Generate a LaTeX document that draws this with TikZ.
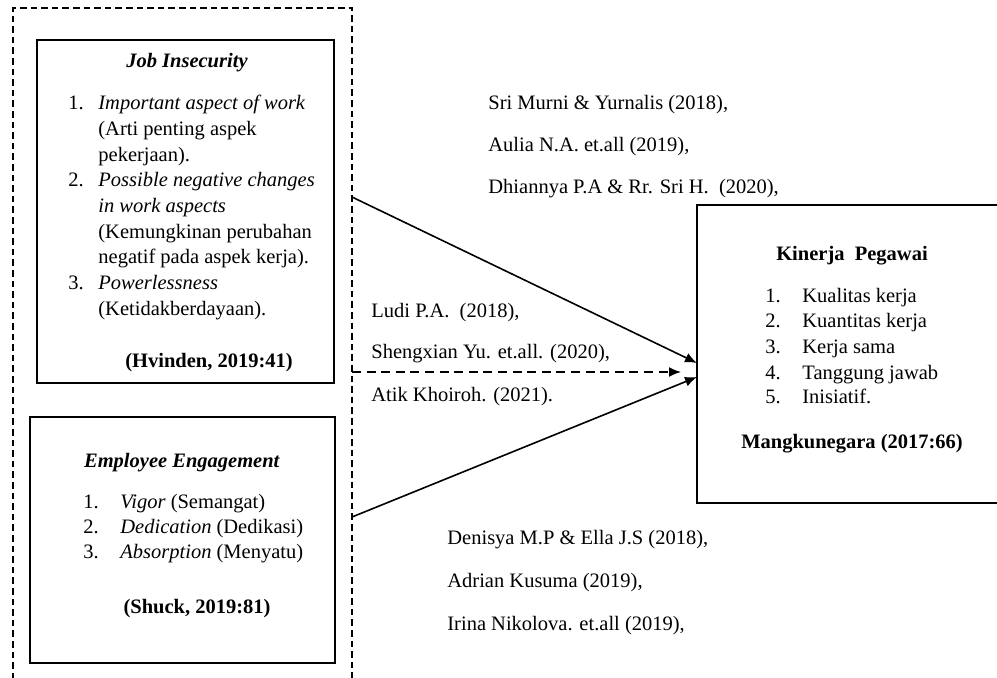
\documentclass[tikz,border=0pt]{standalone}
\usepackage{fontspec}
\setmainfont{Liberation Serif}
\usetikzlibrary{arrows.meta}
\tikzset{
  box/.style={draw,line width=1pt,inner sep=0pt},
  txt/.style={anchor=base west,inner sep=0pt,font=\fontsize{10.25}{12}\selectfont},
  ctxt/.style={txt,anchor=base},
  link/.style={line width=0.8pt,-{Latex[length=6pt,width=5pt]}},
  frame/.style={line width=0.9pt,dash pattern=on 3.3pt off 2pt},
}
\begin{document}
\begin{tikzpicture}[x=0.5pt,y=-0.5pt]
\useasboundingbox (0,0) rectangle (997,677);
\clip (0,0) rectangle (997,677);
%dashed frame round X1 and X2
\draw[frame] (13,690)--(13,8)--(352,8)--(352,690);
\coordinate (frJob) at (352,197);
\coordinate (frMid) at (352,372);
\coordinate (frEng) at (352,517);
%boxes
\node[box,minimum width=148.5pt,minimum height=171.5pt] (jobbox) at (185.5,211.5) {};
\node[box,minimum width=152.5pt,minimum height=123pt] (engbox) at (182.5,540) {};
\node[box,minimum width=152pt,minimum height=149pt] (kinbox) at (849,354) {};
%arrow ends at Y
\coordinate (tipJob) at (697,363);
\coordinate (tipMid) at (681,372);
\coordinate (tipEng) at (697,377);
%job insecurity
\node[ctxt] (jobT) at (187,67) {\textbf{\textit{Job Insecurity}}};
\node[txt] (jobN1) at (68,109) {1.};
\node[txt] (jobA) at (98,109) {\textit{Important aspect of work}};
\node[txt] (jobB) at (98,135) {(Arti penting aspek};
\node[txt] (jobC) at (98,161) {pekerjaan).};
\node[txt] (jobN2) at (68,186) {2.};
\node[txt] (jobD) at (98,186) {\textit{Possible negative changes}};
\node[txt] (jobE) at (98,212) {\textit{in work aspects}};
\node[txt] (jobF) at (98,238) {(Kemungkinan perubahan};
\node[txt] (jobG) at (98,263) {negatif pada aspek kerja).};
\node[txt] (jobN3) at (68,289) {3.};
\node[txt] (jobH) at (98,289) {\textit{Powerlessness}};
\node[txt] (jobI) at (98,315) {(Ketidakberdayaan).};
\node[ctxt] (jobS) at (209,367) {\textbf{(Hvinden, 2019:41)}};
%employee engagement
\node[ctxt] (engT) at (182,467) {\textbf{\textit{Employee Engagement}}};
\node[txt] (engN1) at (83,508) {1.};
\node[txt] (engA) at (120,508) {\textit{Vigor} (Semangat)};
\node[txt] (engN2) at (83,533) {2.};
\node[txt] (engB) at (120,533) {\textit{Dedication} (Dedikasi)};
\node[txt] (engN3) at (83,558) {3.};
\node[txt] (engC) at (120,558) {\textit{Absorption} (Menyatu)};
\node[ctxt] (engS) at (197,613) {\textbf{(Shuck, 2019:81)}};
%kinerja pegawai
\node[ctxt] (kinT) at (852,260) {\textbf{Kinerja\ \ Pegawai}};
\node[txt] (kinN1) at (765,302) {1.};
\node[txt] (kinA) at (802,302) {Kualitas kerja};
\node[txt] (kinN2) at (765,327) {2.};
\node[txt] (kinB) at (802,327) {Kuantitas kerja};
\node[txt] (kinN3) at (765,353) {3.};
\node[txt] (kinC) at (802,353) {Kerja sama};
\node[txt] (kinN4) at (765,379) {4.};
\node[txt] (kinD) at (802,379) {Tanggung jawab};
\node[txt] (kinN5) at (765,403) {5.};
\node[txt] (kinE) at (802,403) {Inisiatif.};
\node[ctxt] (kinS) at (852,448) {\textbf{Mangkunegara (2017:66)}};
%citations
\node[txt] (citA1) at (488,109) {Sri Murni \& Yurnalis (2018),};
\node[txt] (citA2) at (488,151) {Aulia N.A. et.all (2019),};
\node[txt] (citA3) at (488,193) {Dhiannya P.A \& Rr. Sri H.\ \ (2020),};
\node[txt] (citB1) at (371,317) {Ludi P.A.\ \ (2018),};
\node[txt] (citB2) at (371,358) {Shengxian Yu. et.all. (2020),};
\node[txt] (citB3) at (371,401) {Atik Khoiroh. (2021).};
\node[txt] (citC1) at (447,544) {Denisya M.P \& Ella J.S (2018),};
\node[txt] (citC2) at (447,587) {Adrian Kusuma (2019),};
\node[txt] (citC3) at (447,630) {Irina Nikolova. et.all (2019),};
%arrows
\draw[link] (frJob)--(tipJob);
\draw[link,dash pattern=on 4.5pt off 2.8pt] (frMid)--(tipMid);
\draw[link] (frEng)--(tipEng);
\end{tikzpicture}
\end{document}
